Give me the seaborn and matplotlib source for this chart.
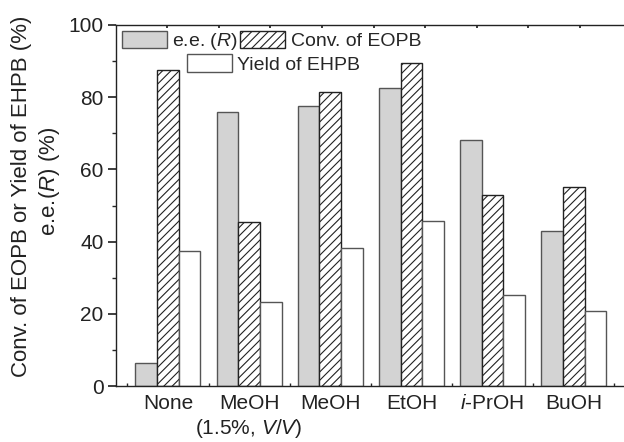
import matplotlib
matplotlib.use("Agg")
import matplotlib.pyplot as plt
import seaborn as sns
import pandas as pd
import numpy as np
from matplotlib.ticker import MultipleLocator, FixedLocator

categories = ["None", "MeOH\n(1.5%, $\\mathit{V/V}$)", "MeOH", "EtOH", "$\\mathit{i}$-PrOH", "BuOH"]
ee_R = [6.4, 76.0, 77.7, 82.6, 68.2, 43.0]
conv_EOPB = [87.5, 45.5, 81.5, 89.6, 53.0, 55.2]
yield_EHPB = [37.3, 23.3, 38.2, 45.8, 25.2, 20.7]
series_names = ["e.e. ($\\mathit{R}$)", "Conv. of EOPB", "Yield of EHPB"]

sns.set_theme(style="ticks")
plt.rcParams['font.family'] = ['Liberation Sans', 'DejaVu Sans']
plt.rcParams['mathtext.fontset'] = 'custom'
plt.rcParams['mathtext.it'] = 'Liberation Sans:italic'
plt.rcParams['mathtext.rm'] = 'Liberation Sans'
plt.rcParams['hatch.linewidth'] = 0.8

idx = list(range(len(categories)))
df = pd.DataFrame({
    "cat": idx * 3,
    "series": [series_names[0]] * 6 + [series_names[1]] * 6 + [series_names[2]] * 6,
    "value": ee_R + conv_EOPB + yield_EHPB,
})

fig = plt.figure(figsize=(6.24, 4.42), dpi=100)
ax = fig.add_axes([116/624, 1 - 386/442, 1 - 116/624, (386 - 25)/442])

palette = {series_names[0]: "#d3d3d3", series_names[1]: "white", series_names[2]: "white"}
sns.barplot(data=df, x="cat", y="value", hue="series", palette=palette,
            width=0.8, edgecolor="#555555", linewidth=1.0, saturation=1,
            ax=ax, legend=False)

for bar in ax.containers[1]:
    bar.set_hatch("////")
    bar.set_edgecolor("#222222")

ax.set_xlim(-0.64, 5.62)
ax.set_ylim(0, 100)
ax.set_xticks(idx)
ax.set_xticklabels(categories, fontsize=15, color="#222222")
ax.tick_params(axis="x", which="major", length=0, pad=6)
ax.xaxis.set_minor_locator(FixedLocator([-0.5, 0.5, 1.5, 2.5, 3.5, 4.5, 5.5]))
ax.tick_params(axis="x", which="minor", direction="in", length=2.5, top=False, bottom=True)
ax.yaxis.set_major_locator(MultipleLocator(20))
ax.yaxis.set_minor_locator(MultipleLocator(10))
ax.tick_params(axis="y", which="major", direction="out", length=6, labelsize=15,
               labelcolor="#222222", pad=3)
ax.tick_params(axis="y", which="minor", direction="out", length=3)
ax.set_xlabel("")
ax.set_ylabel("")
for s in ["left", "bottom", "top"]:
    ax.spines[s].set_color("#222222")
    ax.spines[s].set_linewidth(1.0)
ax.spines["right"].set_visible(False)

sec = ax.secondary_xaxis("top")
sec.set_xticks(np.arange(9) * 0.636 - 0.01)
sec.set_xticklabels([])
sec.tick_params(direction="in", length=2.5, color="#222222")
sec.spines["top"].set_visible(False)

fig.text(22/624, 1 - 196/442, "Conv. of EOPB or Yield of EHPB (%)", rotation=90,
         ha="center", va="center", fontsize=16, color="#222222")
fig.text(49/624, 1 - 181/442, "e.e.($\\mathit{R}$) (%)", rotation=90,
         ha="center", va="center", fontsize=16, color="#222222")

h = [ax.containers[0].patches[0], ax.containers[1].patches[0], ax.containers[2].patches[0]]
leg1 = ax.legend([h[0], h[1]], [series_names[0], series_names[1]], ncol=2, loc="upper left",
                 bbox_to_anchor=(0.0, 1.0), frameon=False, fontsize=14,
                 handlelength=2.3, handleheight=1.0, handletextpad=0.3,
                 columnspacing=0.1, borderaxespad=0.1, borderpad=0.2)
ax.add_artist(leg1)
ax.legend([h[2]], [series_names[2]], loc="upper left", bbox_to_anchor=(0.128, 0.935),
          frameon=False, fontsize=14, handlelength=2.3, handleheight=1.0,
          handletextpad=0.3, borderaxespad=0.1, borderpad=0.2)

fig.savefig("out.png", dpi=100)
